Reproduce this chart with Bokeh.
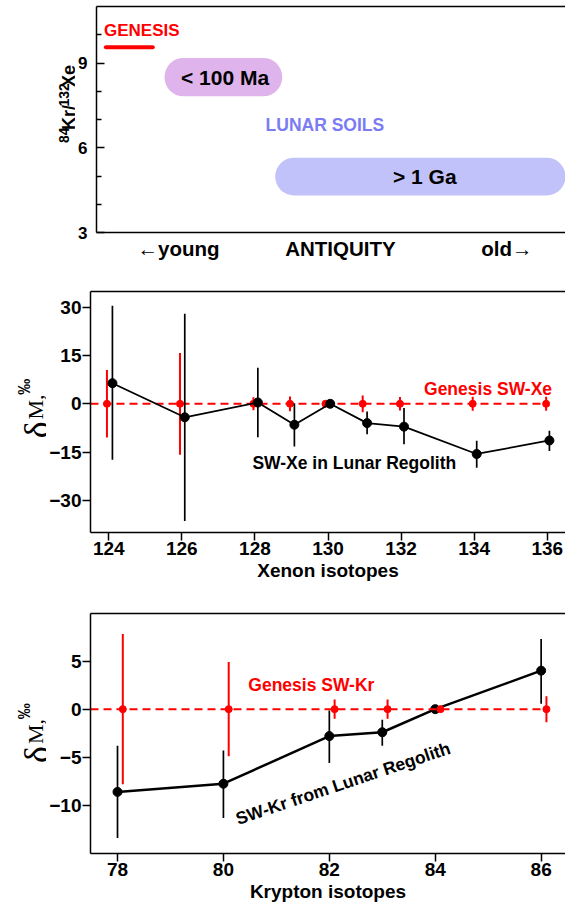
import math
from bokeh.plotting import figure
from bokeh.layouts import column, row
from bokeh.models import Range1d, FixedTicker, LinearAxis, Label
from bokeh.core.properties import value
from bokeh.embed import file_html
from bokeh.resources import INLINE

FONT = "Liberation Sans"
SERIF = "Liberation Serif"
RED = "#ff0000"

# ---------------- Panel 1 data ----------------
antiq_tick_pos = [1.75, 5.2, 8.75]
antiq_tick_labels = ["←young", "ANTIQUITY", "old→"]
ratio_ticks = [3, 6, 9]
ratio_minor = [4, 5, 7, 8, 10]
genesis_x = [0.2, 1.2]
genesis_ratio = [9.56, 9.56]
genesis_label_x = [0.16]
genesis_label_y = [10.15]
pill_names = ["< 100 Ma", "> 1 Ga"]
pill_left = [1.45, 3.81]
pill_right = [3.96, 10.0]
pill_bottom = [7.82, 4.31]
pill_top = [9.18, 5.65]
pill_colors = ["#dfb3ec", "#c2c2fb"]
pill_label_x = [2.74, 7.0]
pill_label_y = [8.5, 4.98]
soils_label_x = [4.87]
soils_label_y = [6.82]

# ---------------- Panel 2 data (Xe) ----------------
xe_ticks = [124, 126, 128, 130, 132, 134, 136]
xe_yticks = [-30, -15, 0, 15, 30]
xe_lunar_x = [124.1, 126.08, 128.08, 129.08, 130.06, 131.07, 132.08, 134.07, 136.06]
xe_lunar = [6.4, -4.2, 0.4, -6.5, 0.0, -6.0, -7.1, -15.6, -11.4]
xe_lunar_hi = [30.5, 28.0, 11.2, 0.2, 0.0, -2.4, -1.3, -11.5, -8.4]
xe_lunar_lo = [-17.4, -36.4, -10.4, -13.3, 0.0, -9.5, -12.6, -19.9, -14.7]
xe_gen_x = [123.95, 125.95, 127.96, 128.96, 129.93, 130.95, 131.97, 133.96, 135.97]
xe_gen = [0, 0, 0, 0, 0, 0, 0, 0, 0]
xe_gen_err = [10.5, 15.8, 2.0, 2.3, 1.0, 2.6, 2.1, 2.2, 2.2]

# ---------------- Panel 3 data (Kr) ----------------
kr_ticks = [78, 80, 82, 84, 86]
kr_yticks = [-10, -5, 0, 5]
kr_lunar_x = [78.0, 80.0, 82.0, 83.0, 84.0, 86.0]
kr_lunar = [-8.6, -7.75, -2.8, -2.4, 0.0, 4.0]
kr_lunar_hi = [-3.8, -4.3, -0.14, -1.1, 0.0, 7.3]
kr_lunar_lo = [-13.4, -11.3, -5.6, -3.8, 0.0, 0.55]
kr_gen_x = [78.1, 80.1, 82.1, 83.1, 84.1, 86.1]
kr_gen = [0, 0, 0, 0, 0, 0]
kr_gen_err = [7.8, 4.9, 1.0, 1.0, 0.0, 1.35]

# y-axis title pieces: (text, size, baseline x, start y in page pixels)
ratio_title = [("84", "14px", 63, 163.0), ("Kr/", "18px", 68, 147.4),
               ("132", "14px", 63, 119.5), ("Xe", "18px", 68, 96.3)]
# (text, size, font, style, baseline x, offset from start)
delta_title = [("δ", "36px", SERIF, "normal", 36, 0), ("M,", "22px", SERIF, "normal", 35, -25),
               ("‰", "16px", FONT, "bold", 23.5, -58)]


def base_axis(ax, size="19px"):
    ax.axis_line_width = 1.5
    ax.axis_line_color = "black"
    ax.major_tick_line_width = 1.5
    ax.major_tick_line_color = "black"
    ax.minor_tick_line_width = 1.5
    ax.major_label_text_font = FONT
    ax.major_label_text_font_style = "bold"
    ax.major_label_text_font_size = size
    ax.major_label_text_color = "black"
    ax.axis_label_text_font = FONT
    ax.axis_label_text_font_style = "bold"
    ax.axis_label_text_font_size = size
    ax.axis_label_text_color = "black"


def add_top_line(p):
    top = LinearAxis(ticker=FixedTicker(ticks=[]), axis_line_width=1.5,
                     major_tick_out=0, major_tick_in=0, minor_tick_out=0,
                     minor_tick_in=0, major_label_standoff=0)
    p.add_layout(top, "above")


def make_fig(w, h, xr, yr, left, top, bottom):
    p = figure(width=w, height=h, x_range=xr, y_range=yr,
               output_backend="svg", toolbar_location=None,
               min_border_left=left, min_border_right=0,
               min_border_top=top, min_border_bottom=bottom)
    p.outline_line_color = None
    p.xgrid.visible = False
    p.ygrid.visible = False
    p.background_fill_color = "white"
    p.border_fill_color = "white"
    return p


def label_fig(w, y0, y1):
    # a narrow strip; data y = minus the page pixel row
    q = figure(width=w, height=y1 - y0, x_range=Range1d(0, w), y_range=Range1d(-y1, -y0),
               output_backend="svg", toolbar_location=None,
               x_axis_type=None, y_axis_type=None,
               min_border_left=0, min_border_right=0, min_border_top=0, min_border_bottom=0)
    q.outline_line_color = None
    q.xgrid.visible = False
    q.ygrid.visible = False
    q.background_fill_color = "white"
    q.border_fill_color = "white"
    return q


def vlabel(q, x, y, txt, size, font, style):
    q.add_layout(Label(x=x, y=y, text=txt, text_font=font, text_font_style=style,
                       text_font_size=size, text_color="black", text_align="left",
                       text_baseline="alphabetic", angle=math.pi / 2))


def delta_strip(w, y0, y1, start):
    q = label_fig(w, y0, y1)
    for txt, size, font, style, bx, dy in delta_title:
        vlabel(q, bx, -(start + dy), txt, size, font, style)
    return q


# ================= Panel 1 =================
l1 = label_fig(75, 0, 270)
for txt, size, bx, by in ratio_title:
    vlabel(l1, bx, -by, txt, size, FONT, "bold")

p1 = make_fig(490, 270, Range1d(0, 10), Range1d(3, 11), 20, 6, 38)
xa = p1.below[0]
base_axis(xa, "20.5px")
xa.ticker = FixedTicker(ticks=antiq_tick_pos)
xa.major_label_overrides = {pos: lab for pos, lab in zip(antiq_tick_pos, antiq_tick_labels)}
xa.major_tick_out = 0
xa.major_tick_in = 0
xa.minor_tick_out = 0
xa.minor_tick_in = 0
xa.major_label_standoff = 4
ya = p1.left[0]
base_axis(ya, "17px")
ya.ticker = FixedTicker(ticks=ratio_ticks, minor_ticks=ratio_minor)
ya.major_tick_in = 8
ya.major_tick_out = 0
ya.minor_tick_in = 5
ya.minor_tick_out = 0
ya.minor_tick_line_color = "black"
ya.major_label_standoff = 9
add_top_line(p1)

p1.quad(left=pill_left, right=pill_right, bottom=pill_bottom, top=pill_top,
        fill_color=pill_colors, line_color=None, border_radius=19)
p1.text(x=pill_label_x, y=pill_label_y, text=pill_names, text_font=value(FONT),
        text_font_style="bold", text_font_size="21px", text_color="black",
        text_align="center", text_baseline="middle")
p1.line(genesis_x, genesis_ratio, line_color=RED, line_width=4, line_cap="round")
p1.text(x=genesis_label_x, y=genesis_label_y, text=["GENESIS"], text_font=value(FONT),
        text_font_style="bold", text_font_size="17px", text_color=RED,
        text_align="left", text_baseline="middle")
p1.text(x=soils_label_x, y=soils_label_y, text=["LUNAR SOILS"], text_font=value(FONT),
        text_font_style="bold", text_font_size="17.5px", text_color="#7b7bf4",
        text_align="center", text_baseline="middle")

# ================= Panel 2 =================
l2 = delta_strip(46, 270, 590, 465)
p2 = make_fig(519, 320, Range1d(123.5, 136.5), Range1d(-40, 34.9), 39, 21, 58)
xa = p2.below[0]
base_axis(xa)
xa.ticker = FixedTicker(ticks=xe_ticks)
xa.major_tick_out = 8
xa.major_tick_in = 0
xa.minor_tick_line_color = None
xa.major_label_standoff = 1
xa.axis_label = "Xenon isotopes"
xa.axis_label_standoff = 2
ya = p2.left[0]
base_axis(ya)
ya.ticker = FixedTicker(ticks=xe_yticks)
ya.major_tick_out = 8
ya.major_tick_in = 0
ya.minor_tick_line_color = None
ya.major_label_standoff = 1
add_top_line(p2)

xe_gen_lo = [v - e for v, e in zip(xe_gen, xe_gen_err)]
xe_gen_hi = [v + e for v, e in zip(xe_gen, xe_gen_err)]
p2.segment(x0=xe_gen_x, y0=xe_gen_lo, x1=xe_gen_x, y1=xe_gen_hi, line_color=RED, line_width=2)
p2.line([123.5] + xe_gen_x, [xe_gen[0]] + xe_gen, line_color=RED, line_width=2, line_dash="8 5")
p2.scatter(xe_gen_x, xe_gen, size=7, fill_color=RED, line_color=RED)
p2.line(xe_lunar_x, xe_lunar, line_color="black", line_width=1.8)
p2.segment(x0=xe_lunar_x, y0=xe_lunar_lo, x1=xe_lunar_x, y1=xe_lunar_hi, line_color="black", line_width=1.7)
p2.scatter(xe_lunar_x, xe_lunar, size=9, fill_color="black", line_color="black")
p2.text(x=[134.38], y=[4.75], text=["Genesis SW-Xe"], text_font=value(FONT),
        text_font_style="bold", text_font_size="17.5px", text_color=RED,
        text_align="center", text_baseline="middle")
p2.text(x=[130.72], y=[-18.5], text=["SW-Xe in Lunar Regolith"], text_font=value(FONT),
        text_font_style="bold", text_font_size="17.5px", text_color="black",
        text_align="center", text_baseline="middle")

# ================= Panel 3 =================
l3 = delta_strip(46, 590, 908, 788)
p3 = make_fig(519, 318, Range1d(77.49, 86.46), Range1d(-15, 9.94), 39, 23, 55)
xa = p3.below[0]
base_axis(xa)
xa.ticker = FixedTicker(ticks=kr_ticks)
xa.major_tick_out = 8
xa.major_tick_in = 0
xa.minor_tick_line_color = None
xa.major_label_standoff = 1
xa.axis_label = "Krypton isotopes"
xa.axis_label_standoff = 2
ya = p3.left[0]
base_axis(ya)
ya.ticker = FixedTicker(ticks=kr_yticks)
ya.major_tick_out = 8
ya.major_tick_in = 0
ya.minor_tick_line_color = None
ya.major_label_standoff = 1
add_top_line(p3)

p3.line(kr_lunar_x, kr_lunar, line_color="black", line_width=2.5)
p3.segment(x0=kr_lunar_x, y0=kr_lunar_lo, x1=kr_lunar_x, y1=kr_lunar_hi, line_color="black", line_width=1.7)
p3.scatter(kr_lunar_x, kr_lunar, size=9, fill_color="black", line_color="black")
kr_gen_lo = [v - e for v, e in zip(kr_gen, kr_gen_err)]
kr_gen_hi = [v + e for v, e in zip(kr_gen, kr_gen_err)]
p3.segment(x0=kr_gen_x, y0=kr_gen_lo, x1=kr_gen_x, y1=kr_gen_hi, line_color=RED, line_width=2)
p3.line([77.49] + kr_gen_x, [kr_gen[0]] + kr_gen, line_color=RED, line_width=2, line_dash="8 5")
p3.scatter(kr_gen_x, kr_gen, size=7, fill_color=RED, line_color=RED)
p3.text(x=[81.66], y=[2.53], text=["Genesis SW-Kr"], text_font=value(FONT),
        text_font_style="bold", text_font_size="17.5px", text_color=RED,
        text_align="center", text_baseline="middle")
p3.text(x=[82.26], y=[-7.72], text=["SW-Kr from Lunar Regolith"], text_font=value(FONT),
        text_font_style="bold", text_font_size="17.5px", text_color="black",
        text_align="center", text_baseline="middle", angle=0.3246)

layout = column(row(l1, p1, spacing=0), row(l2, p2, spacing=0), row(l3, p3, spacing=0), spacing=0)
open("out.html", "w").write(file_html(layout, INLINE))
